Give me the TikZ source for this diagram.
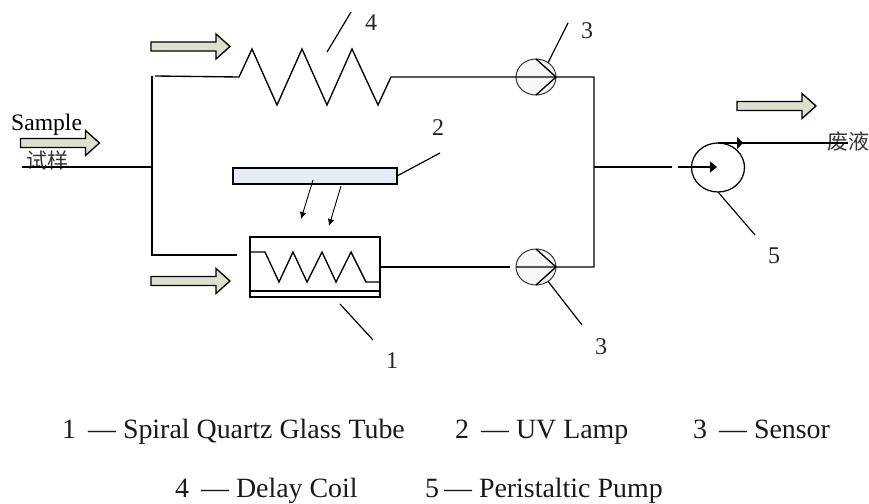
\documentclass[tikz,border=0pt]{standalone}
\usepackage{fontspec}
\setmainfont{Liberation Serif}
\newfontfamily\cjk{Noto Sans CJK SC}
\usetikzlibrary{shapes.geometric,arrows.meta}
\definecolor{arrowfill}{HTML}{DDE0CC}
\definecolor{lampfill}{HTML}{E6EBF7}
\definecolor{cjkgrey}{HTML}{333333}
\tikzset{
  x=1pt,y=-1pt,
  pipe/.style={draw=black,line width=1.35pt},
  leader/.style={draw=black,line width=1.2pt},
  ray/.style={draw=black,line width=.9pt,-{Latex[length=7pt,width=6.5pt]}},
  sensor/.style={ellipse,draw=black!80,line width=1pt,fill=black!3,minimum width=40pt,minimum height=36pt,inner sep=0pt,outer sep=0pt},
  pumpnode/.style={ellipse,draw=black,line width=1.25pt,minimum width=53pt,minimum height=49pt,inner sep=0pt,outer sep=0pt},
  num/.style={font=\fontsize{24}{24}\selectfont,inner sep=0pt,text=black!85},
  legend/.style={font=\fontsize{27.9}{28}\selectfont,inner sep=0pt,anchor=base west,text=black!90},
  cjklabel/.style={font=\cjk\fontsize{21}{21}\selectfont,inner sep=0pt,text=cjkgrey},
  blockarrow/.pic={\draw[line width=1.35pt,fill=arrowfill,line join=miter]
    (0,-4.5) -- (65,-4.5) -- (65,-12.5) -- (79,0) -- (65,12.5) -- (65,4.5) -- (0,4.5) -- cycle;}
}
\begin{document}
\begin{tikzpicture}
\useasboundingbox (0,0) rectangle (869,503);

% labels beneath the lines
\node[cjklabel] (shiyang) at (47,160) {试样};
\node[cjklabel] (feiye) at (848,142) {废液};

% nodes
\node[sensor] (s1) at (536,77) {};
\node[sensor] (s2) at (536,267) {};
\node[pumpnode] (pump) at (718,167.5) {};
\node[draw=black,line width=1.35pt,fill=lampfill,minimum width=164pt,minimum height=16pt,inner sep=0pt,outer sep=0pt] (lamp) at (315,176) {};
\node[draw=black,line width=1.35pt,minimum width=130pt,minimum height=60pt,inner sep=0pt,outer sep=0pt] (box) at (315,267) {};

% junction coordinates
\coordinate (in) at (22,167);
\coordinate (jn) at (152,167);
\coordinate (top) at (152,76);
\coordinate (bot) at (152,255);
\coordinate (rt) at (594,77);
\coordinate (rb) at (594,267);
\coordinate (rm) at (594,167);
\coordinate (coilin) at (239,77);
\coordinate (coilout) at (391,77);

% main pipes
\draw[pipe] (in) -- (jn);
\draw[pipe] (top) -- (jn) -- (152,255) -- (237,255);
\draw[pipe] (155,76) -- (coilin) -- (252,49) -- (277,105) -- (302,49) -- (327,105) -- (352,49) -- (378,105) -- (coilout) -- (s1.west) -- (s1.east) -- (rt) -- (rb) -- (s2.east) -- (s2.west);
\draw[pipe] (box.east) -- (510,267);
\draw[pipe] (rm) -- (672,167);

% sensor chevrons
\draw[pipe] (536,59) -- (s1.east) -- (536,95);
\draw[pipe] (536,249) -- (s2.east) -- (536,285);

% coil in the tube
\draw[pipe] (250,252) -- (265,252) -- (279,282) -- (293,252) -- (307,282) -- (322,252) -- (336,282) -- (351,252) -- (366,282) -- (380,282);
\draw[pipe] (250,291) -- (380,291);

% pump in and out
\draw[pipe,-{Triangle[length=7pt,width=11pt]}] (678,167) -- (717,167);
\draw[pipe,-{Triangle[length=6pt,width=12pt]}] (pump.north) -- (743,143);
\draw[draw=black,line width=2pt] (742,143) -- (848,143);

% lamp rays
\draw[ray] (313,180) -- (301,219);
\draw[ray] (341,186) -- (329,226);

% leaders
\coordinate (l4a) at (327,52); \coordinate (l4b) at (351,12);
\coordinate (l3a) at (568,23);
\coordinate (l2) at (440,153);
\coordinate (l1a) at (340,304); \coordinate (l1b) at (373,340);
\coordinate (l3b) at (582,325);
\coordinate (l5) at (755,235);
\draw[leader] (l4a) -- (l4b);
\draw[leader] (s1.50) -- (l3a);
\draw[leader] (lamp.east) -- (l2);
\draw[leader] (l1a) -- (l1b);
\draw[leader] (s2.-50) -- (l3b);
\draw[leader] (pump.south) -- (l5);

% block arrows
\pic at (151,46.5) {blockarrow};
\pic at (20.5,143) {blockarrow};
\pic at (151,281) {blockarrow};
\pic at (737,106) {blockarrow};

% labels
\node[font=\fontsize{23.6}{24}\selectfont,inner sep=0pt,anchor=base west] (sample) at (11,130) {Sample};
\node[num] (n4) at (371,23) {4};
\node[num] (n3a) at (587,31) {3};
\node[num] (n2) at (438,128) {2};
\node[num] (n1) at (392,361) {1};
\node[num] (n3b) at (601,347) {3};
\node[num] (n5) at (774,256) {5};

% legend
\node[legend] (k1) at (62,438) {1\hspace{12pt}— Spiral Quartz Glass Tube};
\node[legend] (k2) at (455,438) {2\hspace{12pt}— UV Lamp};
\node[legend] (k3) at (693,438) {3\hspace{12pt}— Sensor};
\node[legend] (k4) at (175,497) {4\hspace{12pt}— Delay Coil};
\node[legend] (k5) at (425,497) {5\hspace{5pt}— Peristaltic Pump};
\end{tikzpicture}
\end{document}
